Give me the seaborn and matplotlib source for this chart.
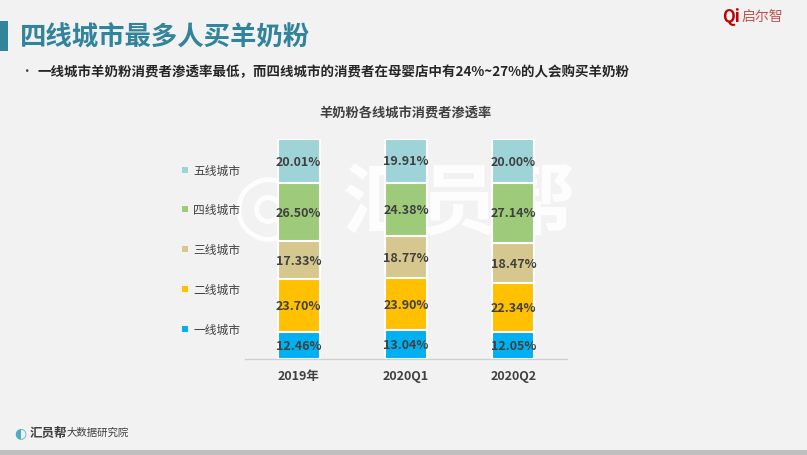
import matplotlib
matplotlib.use("Agg")
import matplotlib.pyplot as plt
import seaborn as sns
import pandas as pd
import numpy as np
from matplotlib.patches import Rectangle

sns.set_theme(style="white")
plt.rcParams['font.family'] = ['Noto Sans CJK SC', 'DejaVu Sans']

periods = ["2019年", "2020Q1", "2020Q2"]
tiers = ["一线城市", "二线城市", "三线城市", "四线城市", "五线城市"]
tier1 = [12.46, 13.04, 12.05]
tier2 = [23.70, 23.90, 22.34]
tier3 = [17.33, 18.77, 18.47]
tier4 = [26.50, 24.38, 27.14]
tier5 = [20.01, 19.91, 20.00]
colors = ["#00B0F0", "#FFC000", "#D5C78D", "#9DCB7A", "#9ED4D8"]

series = [tier1, tier2, tier3, tier4, tier5]
rows = []
for t, vals in zip(tiers, series):
    for p, v in zip(periods, vals):
        rows.append({"period": p, "tier": t, "value": v})
df = pd.DataFrame(rows)
df["cum"] = df.groupby("period", sort=False)["value"].cumsum()
df["base"] = df["cum"] - df["value"]

bg = "#F2F2F2"
fig = plt.figure(figsize=(8.07, 4.56), dpi=100, facecolor=bg)
ax = fig.add_axes([245/807, 1-360/456, (567-245)/807, (360-140)/456])
ax.set_facecolor("none")

# draw from top layer down so lower layers overlay
for t, c in reversed(list(zip(tiers, colors))):
    sub = df[df["tier"] == t]
    sns.barplot(data=sub, x="period", y="cum", order=periods, color=c, saturation=1,
                width=0.39, edgecolor="white", linewidth=1.5, ax=ax, zorder=2)

for _, r in df.iterrows():
    xi = periods.index(r["period"])
    ax.text(xi, r["base"] + r["value"] / 2, f"{r['value']:.2f}%", ha="center", va="center",
            fontsize=9, fontweight="bold", color="#404040", zorder=5)

ax.set_xlim(-0.5, 2.5)
ax.set_ylim(0, 100)
ax.set_yticks([])
ax.set_xlabel("")
ax.set_ylabel("")
for s in ["top", "left", "right"]:
    ax.spines[s].set_visible(False)
ax.spines["bottom"].set_color("#D0D0D0")
ax.spines["bottom"].set_linewidth(1)
ax.tick_params(axis="x", length=0, pad=7)
for lab in ax.get_xticklabels():
    lab.set_fontsize(9)
    lab.set_fontweight("bold")
    lab.set_color("#404040")

# chart title
fig.text(406/807, 1-113/456, "羊奶粉各线城市消费者渗透率", ha="center", va="center",
         fontsize=9.5, fontweight="bold", color="#404040")

# legend
leg_y = [330, 290, 250, 210, 171]
for t, c, y in zip(tiers, colors, leg_y):
    fig.patches.append(Rectangle((182/807, 1-(y+3)/456), 6/807, 6/456,
                                 transform=fig.transFigure, facecolor=c, edgecolor="none"))
    fig.text(193/807, 1-y/456, t, ha="left", va="center", fontsize=8.5, color="#404040")

# header
fig.patches.append(Rectangle((0, 1-52/456), 8/807, 30/456, transform=fig.transFigure,
                             facecolor="#31849B", edgecolor="none"))
fig.text(20/807, 1-38/456, "四线城市最多人买羊奶粉", ha="left", va="center",
         fontsize=19, fontweight="bold", color="#31849B")
fig.text(20/807, 1-72/456, "•", ha="left", va="center", fontsize=9, color="#404040")
fig.text(37/807, 1-72/456, "一线城市羊奶粉消费者渗透率最低，而四线城市的消费者在母婴店中有24%~27%的人会购买羊奶粉",
         ha="left", va="center", fontsize=9.7, fontweight="bold", color="#262626")

# logo top right
fig.text(722/807, 1-17/456, "Qi", ha="left", va="center", fontsize=12, fontweight="bold",
         color="#C00000", style="italic")
fig.text(742/807, 1-17/456, "启尔智", ha="left", va="center", fontsize=10, color="#C0504D")

# watermark (behind the chart)
fig.text(460/807, 1-205/456, "汇员帮", ha="center", va="center", fontsize=56, fontweight="bold",
         color="white", alpha=0.85, zorder=-1)
fig.text(268/807, 1-208/456, "◎", ha="center", va="center", fontsize=60,
         color="white", alpha=0.85, zorder=-1, family=["DejaVu Sans"])

# footer
fig.text(14/807, 1-433/456, "◐", ha="left", va="center", fontsize=10, color="#4BACC6",
         family=["DejaVu Sans"])
fig.text(30/807, 1-433/456, "汇员帮", ha="left", va="center", fontsize=9, fontweight="bold",
         color="#404040")
fig.text(67/807, 1-433/456, "大数据研究院", ha="left", va="center", fontsize=7.5, color="#404040")
fig.patches.append(Rectangle((0, 0), 1, 5/456, transform=fig.transFigure,
                             facecolor="#BFBFBF", edgecolor="none"))

fig.savefig("out.png", dpi=100, facecolor=bg)
